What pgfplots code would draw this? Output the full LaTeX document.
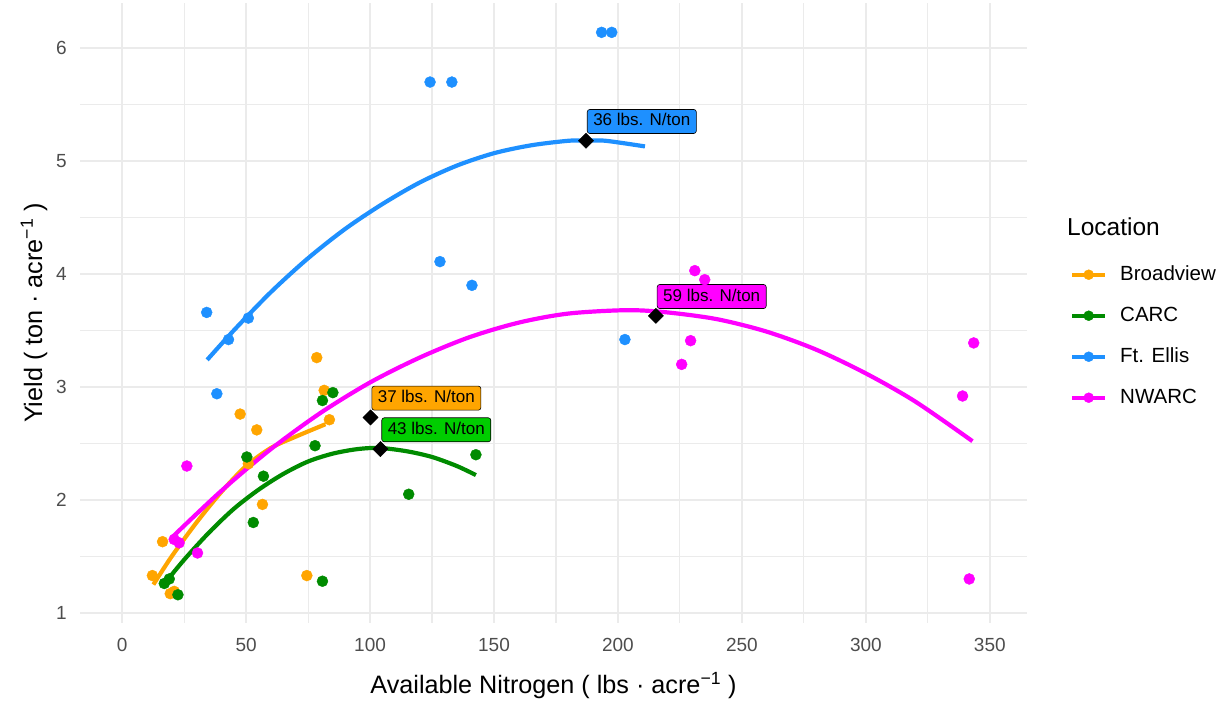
\documentclass[border=0pt]{standalone}
\usepackage{fontspec}
\setmainfont{Liberation Sans}
\usepackage{pgfplots}
\pgfplotsset{compat=1.18}
\usepackage{pgfplotstable}

\definecolor{cBroad}{HTML}{FFA500}
\definecolor{cCARC}{HTML}{008B00}
\definecolor{cCARClab}{HTML}{00CD00}
\definecolor{cFt}{HTML}{1E90FF}
\definecolor{cNW}{HTML}{FF00FF}
\definecolor{gridc}{HTML}{EBEBEB}
\definecolor{tickc}{HTML}{4D4D4D}

\tikzset{lab/.style={draw=black, line width=0.6pt, rounded corners=2.5pt, anchor=south west,
    font=\fontsize{17}{17}\selectfont, inner xsep=6pt, inner ysep=4pt, text height=12.5pt, text depth=3.5pt,
    xshift=1pt, yshift=7pt}}

% observed points
\pgfplotstableread{
x y
12.2 1.33
16.3 1.63
19.4 1.17
21.0 1.19
47.6 2.76
54.3 2.62
50.9 2.32
56.6 1.96
74.5 1.33
78.5 3.26
81.5 2.97
83.6 2.71
}\ptBroad
\pgfplotstableread{
x y
17.0 1.26
19.0 1.30
22.5 1.16
50.3 2.38
57.0 2.21
52.9 1.80
77.8 2.48
80.8 2.88
85.0 2.95
80.8 1.28
115.6 2.05
142.7 2.40
}\ptCARC
\pgfplotstableread{
x y
34.1 3.66
38.2 2.94
42.9 3.42
50.9 3.61
124.2 5.70
133.0 5.70
128.2 4.11
141.1 3.90
193.4 6.14
197.5 6.14
202.8 3.42
}\ptFt
\pgfplotstableread{
x y
21.0 1.65
23.0 1.62
26.1 2.30
30.4 1.53
225.7 3.20
229.3 3.41
231.0 4.03
235.0 3.95
339.0 2.92
341.7 1.30
343.5 3.39
}\ptNW

% fitted curves
\pgfplotstableread{
x y
12.6 1.25
20 1.50
30 1.80
40 2.07
50 2.30
60 2.46
70 2.56
82 2.67
}\fitBroad
\pgfplotstableread{
x y
16 1.23
25 1.47
35 1.71
45 1.92
55 2.09
65 2.23
75 2.34
85 2.41
95 2.45
104 2.46
115 2.43
125 2.38
135 2.30
142.7 2.22
}\fitCARC
\pgfplotstableread{
x y
34.3 3.24
45 3.50
60 3.84
75 4.14
90 4.40
105 4.62
120 4.81
135 4.96
150 5.07
165 5.14
180 5.18
187 5.18
195 5.18
210.9 5.13
}\fitFt
\pgfplotstableread{
x y
20.2 1.67
40 2.08
60 2.45
80 2.77
100 3.04
120 3.26
140 3.44
160 3.57
180 3.65
203.6 3.68
220 3.66
240 3.60
260 3.49
280 3.33
300 3.12
320 2.87
343 2.52
}\fitNW

\begin{document}
\begin{tikzpicture}
\begin{axis}[
  scale only axis, width=947pt, height=620pt,
  xmin=-17, xmax=365, ymin=0.91, ymax=6.40,
  xtick={0,50,...,350}, ytick={1,2,3,4,5,6},
  minor x tick num=1, minor y tick num=1,
  grid=both,
  major grid style={color=gridc, line width=1.8pt},
  minor grid style={color=gridc, line width=1.1pt},
  axis line style={draw=none},
  major tick length=0pt, minor tick length=0pt,
  tick style={draw=none},
  /pgf/number format/assume math mode=true,
  ticklabel style={font=\fontsize{19}{19}\selectfont, text=tickc, inner sep=0pt},
  xticklabel style={anchor=north, yshift=-15pt},
  yticklabel style={anchor=east, xshift=-13pt},
  xlabel={Available Nitrogen ( lbs · acre\textsuperscript{−1} )},
  ylabel={Yield ( ton · acre\textsuperscript{−1} )},
  every axis x label/.style={at={(axis description cs:0.5,-0.1145)}, anchor=base, font=\fontsize{25.2}{25.2}\selectfont},
  every axis y label/.style={at={(axis description cs:-0.0401,0.5)}, anchor=base, rotate=90, font=\fontsize{25.2}{25.2}\selectfont},
  legend image code/.code={\path[draw=none, fill=none] (0pt,0pt) -- (48pt,0pt); \draw[#1, line width=4pt] (0pt,0pt) -- (33pt,0pt); \fill[#1] (16.5pt,0pt) circle (5pt);},
  legend cell align=left,
  legend style={at={(axis description cs:1.0454,0.5774)}, anchor=north west, draw=none, fill=none, inner sep=0pt,
    font=\fontsize{20.5}{20.5}\selectfont, row sep=22pt,
    nodes={inner sep=0pt, text height=15pt, text depth=4pt}},
]
\addlegendimage{cBroad}\addlegendentry{Broadview}
\addlegendimage{cCARC}\addlegendentry{CARC}
\addlegendimage{cFt}\addlegendentry{Ft. Ellis}
\addlegendimage{cNW}\addlegendentry{NWARC}

\addplot[forget plot, only marks, mark=*, mark size=5.5pt, color=cBroad, mark options={draw=none}] table {\ptBroad};
\addplot[forget plot, only marks, mark=*, mark size=5.5pt, color=cCARC, mark options={draw=none}] table {\ptCARC};
\addplot[forget plot, only marks, mark=*, mark size=5.5pt, color=cFt, mark options={draw=none}] table {\ptFt};
\addplot[forget plot, only marks, mark=*, mark size=5.5pt, color=cNW, mark options={draw=none}] table {\ptNW};

\addplot[forget plot, no marks, smooth, line width=4.2pt, color=cBroad] table {\fitBroad};
\addplot[forget plot, no marks, smooth, line width=4.2pt, color=cCARC] table {\fitCARC};
\addplot[forget plot, no marks, smooth, line width=4.2pt, color=cFt] table {\fitFt};
\addplot[forget plot, no marks, smooth, line width=4.2pt, color=cNW] table {\fitNW};

\addplot[forget plot, only marks, mark=square*, mark size=5.4pt, mark options={rotate=45, fill=black, draw=black}] coordinates {
 (187.1,5.18) (215.3,3.63) (100.2,2.73) (104.2,2.45)};

\node[lab, fill=cFt] at (axis cs:187.1,5.18) {36 lbs. N/ton};
\node[lab, fill=cNW] at (axis cs:215.3,3.63) {59 lbs. N/ton};
\node[lab, fill=cBroad] at (axis cs:100.2,2.73) {37 lbs. N/ton};
\node[lab, fill=cCARClab] at (axis cs:104.2,2.45) {43 lbs. N/ton};
\end{axis}
\node[anchor=base west, font=\fontsize{24.5}{24.5}\selectfont, inner sep=0pt] at (987pt,387pt) {Location};
\pgfresetboundingbox
\useasboundingbox (-80pt,-81pt) rectangle (1145pt,623pt);
\end{tikzpicture}
\end{document}
